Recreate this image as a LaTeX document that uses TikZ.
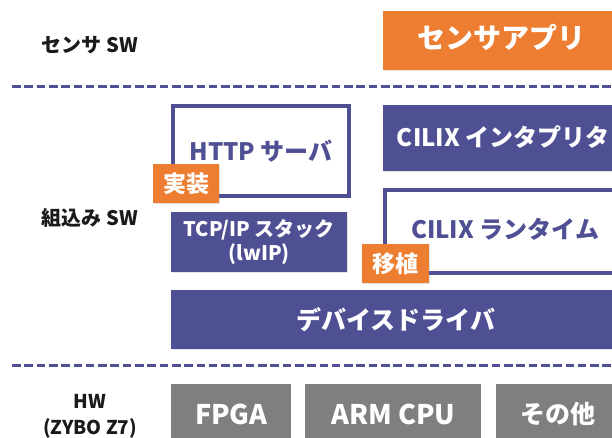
\documentclass[tikz,border=0pt]{standalone}
\usepackage{fontspec}
\setmainfont{Noto Sans CJK JP}
\usetikzlibrary{shadows}
\definecolor{navy}{RGB}{79,80,148}
\definecolor{tagorange}{RGB}{237,125,49}
\definecolor{hwgray}{RGB}{127,127,127}
\definecolor{labelink}{RGB}{26,26,26}
\begin{document}
\begin{tikzpicture}[x=1pt,y=-1pt,
  boxbase/.style={anchor=north west, inner sep=0pt, align=center,
    font=\bfseries\fontsize{#1}{#1}\selectfont},
  shade/.style={drop shadow={opacity=0.22, shadow xshift=1pt, shadow yshift=-1.2pt}},
  solidbox/.style={boxbase=24, fill=navy, text=white, shade},
  appbox/.style={boxbase=28, fill=tagorange, text=white, shade},
  hwbox/.style={boxbase=27, fill=hwgray, text=white},
  framebox/.style={boxbase=24, draw=navy, line width=4pt, fill=white, text=navy, shade},
  tagbox/.style={boxbase=23, fill=tagorange, text=white, shade},
  layerlabel/.style={font=\bfseries\fontsize{20}{22}\selectfont, text=labelink, align=center},
  separator/.style={draw=navy, line width=3pt, dash pattern=on 8.6pt off 3.7pt}
]
\useasboundingbox (0,0) rectangle (612,438);

% layer separators
\coordinate (s1a) at (12,87);  \coordinate (s1b) at (616,87);
\coordinate (s2a) at (12,365); \coordinate (s2b) at (616,365);
\draw[separator] (s1a) -- (s1b);
\draw[separator] (s2a) -- (s2b);

% layer names
\node[layerlabel] (lsensor) at (90,45) {センサ SW};
\node[layerlabel] (lembed) at (90,218) {組込み SW};
\node[layerlabel, font=\bfseries\fontsize{19}{26}\selectfont] (lhw) at (90,416) {HW\\(ZYBO Z7)};

% sensor software
\node[appbox, minimum width=237pt, minimum height=59pt, text depth=8pt] (app) at (383,11) {センサアプリ};

% embedded software
\node[framebox, minimum width=176pt, minimum height=90pt] (http) at (171,104) {HTTP サーバ};
\node[solidbox, minimum width=240pt, minimum height=66pt, text depth=4pt] (interp) at (383,105) {CILIX インタプリタ};
\node[framebox, minimum width=240pt, minimum height=83pt, text depth=6pt] (runtime) at (383,188) {CILIX ランタイム};
\node[solidbox, boxbase=20, minimum width=176pt, minimum height=60pt] (tcp) at (171,212) {TCP/IP スタック\\[2pt](lwIP)};
\node[solidbox, boxbase=25, minimum width=449pt, minimum height=59pt] (driver) at (171,290) {デバイスドライバ};

% work tags
\node[tagbox, minimum width=66pt, minimum height=39pt] (impl) at (153,164) {実装};
\node[tagbox, minimum width=67pt, minimum height=39pt] (port) at (362,244) {移植};

% hardware
\node[hwbox, minimum width=120pt, minimum height=60pt] (fpga) at (171,384) {FPGA};
\node[hwbox, minimum width=176pt, minimum height=60pt] (cpu) at (305,384) {ARM CPU};
\node[hwbox, boxbase=25, minimum width=124pt, minimum height=60pt] (other) at (496,384) {その他};
\end{tikzpicture}
\end{document}
